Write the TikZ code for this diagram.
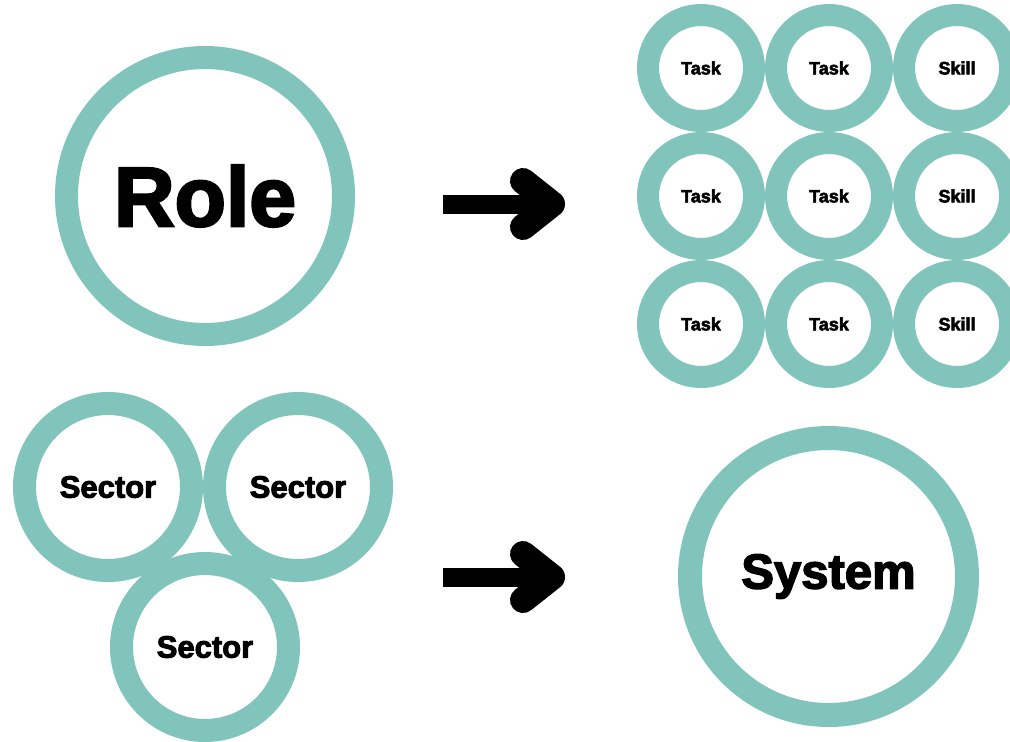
\documentclass[tikz,border=0pt]{standalone}
\usepackage{fontspec}
\setmainfont{Liberation Sans}[BoldFeatures={FakeBold=3}]
\usetikzlibrary{positioning, calc}
\definecolor{ringteal}{HTML}{80C4BC}

\begin{document}
\begin{tikzpicture}[
    x=1pt, y=-1pt,
    node distance=0pt,
    bigring/.style={circle, draw=ringteal, line width=23pt, fill=white, minimum size=277pt, inner sep=0pt,
        font=\bfseries\fontsize{84}{84}\selectfont},
    smallring/.style={circle, draw=ringteal, line width=22pt, fill=white, minimum size=106pt, inner sep=0pt,
        font=\bfseries\fontsize{18}{18}\selectfont},
    midring/.style={circle, draw=ringteal, line width=23pt, fill=white, minimum size=167pt, inner sep=0pt,
        font=\bfseries\fontsize{31}{31}\selectfont},
    shaft/.style={line width=19pt, line cap=butt},
    barb/.style={line width=26pt, line cap=round, line join=round}
]
\useasboundingbox (0,0) rectangle (1010,742);

% Role
\node[bigring] (role) at (205,196) {Role};

% Tasks and skills
\node[smallring] (t11) at (701,68) {Task};
\node[smallring, right=of t11] (t12) {Task};
\node[smallring, right=of t12] (s13) {Skill};
\node[smallring, below=of t11] (t21) {Task};
\node[smallring, right=of t21] (t22) {Task};
\node[smallring, right=of t22] (s23) {Skill};
\node[smallring, below=of t21] (t31) {Task};
\node[smallring, right=of t31] (t32) {Task};
\node[smallring, right=of t32] (s33) {Skill};

% Sectors
\node[midring] (sec1) at (108,487) {Sector};
\node[midring, right=of sec1] (sec2) {Sector};
\node[midring] (sec3) at (205,647) {Sector};

% System
\node[bigring, line width=24pt, font=\bfseries\fontsize{49}{49}\selectfont] (sys) at (828.5,576.5) {System};

% Arrows
\coordinate (arr1s) at (443,204);
\coordinate (arr1e) at (552,204);
\draw[shaft] (arr1s) -- (arr1e);
\draw[barb] ($(arr1e)+(-29,-23)$) -- (arr1e) -- ($(arr1e)+(-29,23)$);

\coordinate (arr2s) at (443,577);
\coordinate (arr2e) at (552,577);
\draw[shaft] (arr2s) -- (arr2e);
\draw[barb] ($(arr2e)+(-29,-23)$) -- (arr2e) -- ($(arr2e)+(-29,23)$);

\end{tikzpicture}
\end{document}
